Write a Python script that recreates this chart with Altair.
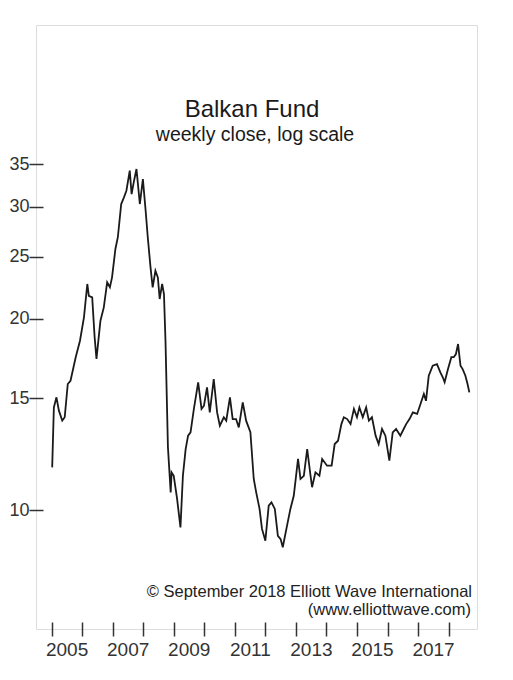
import altair as alt
import pandas as pd

# Weekly close of the Balkan Fund, decimal year / value
years = [2005.02, 2005.075, 2005.16, 2005.24, 2005.35, 2005.43, 2005.53, 2005.62, 2005.79, 2005.93,
         2006.06, 2006.17, 2006.22, 2006.33, 2006.41, 2006.47, 2006.60, 2006.71, 2006.82, 2006.91,
         2006.98, 2007.09, 2007.17, 2007.28, 2007.37, 2007.45, 2007.56, 2007.62, 2007.69, 2007.78,
         2007.89, 2007.99, 2008.08, 2008.15, 2008.24, 2008.31, 2008.40, 2008.48, 2008.54, 2008.62,
         2008.68, 2008.73, 2008.81, 2008.90, 2008.93, 2009.00, 2009.11, 2009.22, 2009.30, 2009.39,
         2009.47, 2009.55, 2009.66, 2009.80, 2009.91, 2009.99, 2010.09, 2010.18, 2010.31, 2010.42,
         2010.51, 2010.64, 2010.72, 2010.84, 2010.93, 2011.04, 2011.13, 2011.26, 2011.37, 2011.51,
         2011.62, 2011.70, 2011.81, 2011.89, 2012.00, 2012.11, 2012.20, 2012.31, 2012.41, 2012.50,
         2012.57, 2012.71, 2012.82, 2012.93, 2013.07, 2013.15, 2013.26, 2013.37, 2013.48, 2013.53,
         2013.64, 2013.77, 2013.86, 2014.02, 2014.17, 2014.27, 2014.38, 2014.49, 2014.57, 2014.68,
         2014.79, 2014.90, 2015.00, 2015.08, 2015.19, 2015.30, 2015.39, 2015.49, 2015.61, 2015.71,
         2015.82, 2015.93, 2016.06, 2016.17, 2016.28, 2016.42, 2016.53, 2016.61, 2016.72, 2016.83,
         2016.97, 2017.08, 2017.19, 2017.26, 2017.35, 2017.48, 2017.62, 2017.73, 2017.81, 2017.87,
         2017.98, 2018.09, 2018.17, 2018.24, 2018.31, 2018.39, 2018.46, 2018.55, 2018.62, 2018.68]

closes = [11.67, 14.50, 15.04, 14.33, 13.82, 13.99, 15.78, 15.97, 17.39, 18.46,
          20.09, 22.67, 21.72, 21.60, 18.69, 17.28, 19.85, 20.83, 22.80, 22.40,
          23.22, 25.73, 26.85, 30.28, 31.02, 31.77, 34.17, 31.39, 32.75, 34.38,
          30.28, 33.14, 29.55, 26.85, 24.07, 22.40, 23.78, 23.22, 21.47, 22.67,
          21.86, 18.46, 12.55, 10.66, 11.46, 11.32, 10.41, 9.39, 11.32, 12.47,
          13.09, 13.25, 14.42, 15.88, 14.42, 14.59, 15.59, 14.24, 16.07, 14.24,
          13.57, 13.99, 13.82, 15.04, 13.90, 13.90, 13.49, 14.77, 13.82, 13.25,
          11.19, 10.66, 10.04, 9.34, 8.95, 10.16, 10.28, 10.04, 9.11, 9.00,
          8.74, 9.45, 10.04, 10.53, 12.03, 11.19, 11.32, 12.47, 11.32, 10.86,
          11.46, 11.32, 12.03, 11.74, 11.74, 12.70, 12.85, 13.65, 13.99, 13.90,
          13.65, 14.42, 13.99, 14.50, 13.99, 14.50, 13.82, 13.99, 13.09, 12.70,
          13.41, 13.09, 11.96, 13.25, 13.41, 13.09, 13.41, 13.65, 13.90, 14.24,
          14.16, 14.68, 15.22, 14.85, 16.26, 16.86, 16.96, 16.46, 16.17, 15.88,
          16.66, 17.39, 17.39, 17.59, 18.24, 16.86, 16.66, 16.26, 15.78, 15.31]

x_tick_years = list(range(2005, 2019))
y_tick_values = [10, 15, 20, 25, 30, 35]

title_text = "Balkan Fund"
subtitle_text = "weekly close, log scale"
credit_lines = ["© September 2018 Elliott Wave International", "(www.elliottwave.com)"]

FONT = "Liberation Sans"
W, H = 441, 604

df = pd.DataFrame({"year": years, "close": closes})

x_scale = alt.Scale(domain=[2004.49, 2018.93], nice=False, zero=False)
y_scale = alt.Scale(type="log", domain=[6.5, 57.9], nice=False)

line = alt.Chart(df).mark_line(color="#1a1a1a", strokeWidth=1.8).encode(
    x=alt.X("year:Q", scale=x_scale, title=None,
            axis=alt.Axis(values=x_tick_years, grid=False, domain=False,
                          tickSize=14, offset=-7, tickColor="#333333", tickWidth=1.5,
                          labelExpr="datum.value % 2 == 1 ? toString(datum.value) : ''",
                          labelOffset=15, labelFlush=False, labelOverlap=False,
                          labelFont=FONT, labelFontSize=19, labelColor="#333333",
                          labelPadding=4)),
    y=alt.Y("close:Q", scale=y_scale, title=None,
            axis=alt.Axis(values=y_tick_values, format="d", grid=False, domain=False,
                          tickSize=14, offset=-7, tickColor="#333333", tickWidth=1.5,
                          labelFont=FONT, labelFontSize=18, labelColor="#333333",
                          labelPadding=0, labelFlush=False, labelOverlap=False)),
)

title = alt.Chart(pd.DataFrame({"t": [title_text]})).mark_text(
    font=FONT, fontSize=24, color="#1a1a1a", align="center", baseline="alphabetic"
).encode(text="t:N", x=alt.value(216), y=alt.value(92))

subtitle = alt.Chart(pd.DataFrame({"t": [subtitle_text]})).mark_text(
    font=FONT, fontSize=19.5, color="#1a1a1a", align="center", baseline="alphabetic"
).encode(text="t:N", x=alt.value(219), y=alt.value(116))

credit1 = alt.Chart(pd.DataFrame({"t": [credit_lines[0]]})).mark_text(
    font=FONT, fontSize=16.5, color="#222222", align="right", baseline="alphabetic"
).encode(text="t:N", x=alt.value(436), y=alt.value(572))

credit2 = alt.Chart(pd.DataFrame({"t": [credit_lines[1]]})).mark_text(
    font=FONT, fontSize=16.5, color="#222222", align="right", baseline="alphabetic"
).encode(text="t:N", x=alt.value(435), y=alt.value(590))

chart = alt.layer(line, title, subtitle, credit1, credit2).properties(
    width=W, height=H,
    padding={"left": 0, "top": 17, "right": 10, "bottom": 5},
).configure_view(
    stroke="#6e6e6e", strokeWidth=1.6
).configure(background="white")

chart.save("out.html", embed_options={"renderer": "svg", "actions": False})
